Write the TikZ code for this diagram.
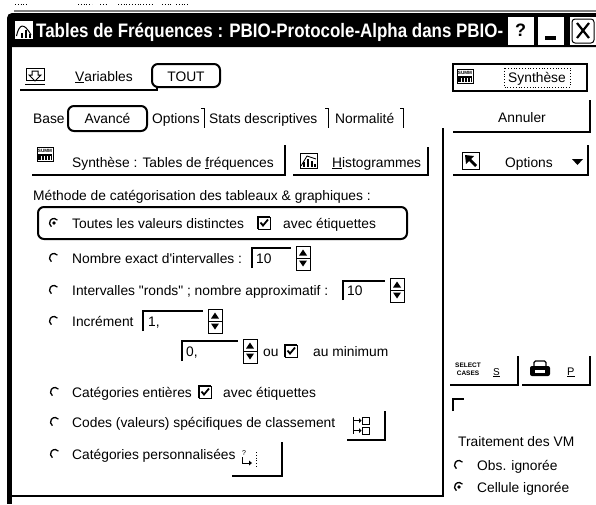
\documentclass[tikz,border=0pt]{standalone}
\usepackage{fontspec}
\setmainfont{Liberation Sans}
\usepackage{graphicx}
\usetikzlibrary{positioning}

\newcommand{\uifont}{\fontsize{13.8}{16}\selectfont}
\newcommand{\tinyfont}{\fontsize{4.6}{5}\selectfont\bfseries}

\begin{document}
\begin{tikzpicture}[x=1pt, y=-1pt,
	txt/.style={font=\uifont, inner sep=0pt, anchor=base west},
	ctxt/.style={font=\uifont, inner sep=0pt, anchor=base},
	ring/.style={draw=black, line width=2pt, rounded corners=6pt},
	btnedge/.style={line width=1.5pt},
	wellline/.style={line width=1.2pt},
	tabsep/.style={line width=1pt},
	capbtn/.style={fill=white, draw=black, line width=1pt},
	radiooff/.pic={\draw[line width=1.3pt] (125:4.5) arc[start angle=125, end angle=320, radius=4.5];},
	radioon/.pic={\draw[line width=1.3pt] (125:4.5) arc[start angle=125, end angle=320, radius=4.5];
		\fill (0,0) circle (1.8);},
	checkon/.pic={\draw[line width=0.8pt] (0,0) rectangle (12,12);
		\draw[line width=1.6pt] (0,12) -- (0,0) -- (12,0);
		\draw[line width=1.8pt] (2.5,5.5) -- (5,8.5) -- (10,2.5);},
	spinner/.pic={\draw[line width=1pt, fill=white] (0,0) rectangle (14,24);
		\draw[line width=1pt] (0,12) -- (14,12);
		\fill (3,9.5) -- (11,9.5) -- (7,3.5) -- cycle;
		\fill (3,14.5) -- (11,14.5) -- (7,20.5) -- cycle;},
	sumicon/.pic={\draw[line width=0.8pt, fill=white] (0,0) rectangle (16,14);
		\node[inner sep=0pt, font=\tinyfont] (-txt) at (8,3.6) {SUMM};
		\fill (1,7) rectangle (15,13);
		\foreach \k in {3.5,6.5,9.5,12.5} \fill[white] (\k,8.5) rectangle ++(0.9,4.5);},
	histicon/.pic={\draw[line width=0.8pt] (0,0) rectangle (17,15);
		\fill (3,14) rectangle (5,9); \fill (7,14) rectangle (9,6);
		\fill (11,14) rectangle (13,8); \fill (14,14) rectangle (16,11);
		\draw[line width=0.8pt] (1,13) -- (7,3) -- (16,6);},
	optsicon/.pic={\draw[line width=0.8pt] (0,0) rectangle (17,17);
		\fill (3,3) -- (12,4) -- (9,7) -- (15,13) -- (13,15) -- (7,9) -- (4,12) -- cycle;},
	varsicon/.pic={\draw[line width=1pt] (1,0) rectangle (19,12);
		\draw[line width=1pt] (0,16) -- (20,16);
		\draw[line width=1pt] (7,3) -- (13,3) -- (13,7) -- (16,7) -- (10,13) -- (4,7) -- (7,7) -- cycle;},
	codesicon/.pic={\draw[line width=0.8pt] (10,1) rectangle (17,8);
		\draw[line width=0.8pt] (10,11) rectangle (17,18);
		\draw[line width=0.8pt] (1,1) -- (1,18);
		\foreach \k in {4.5,14.5} {\draw[line width=0.8pt] (2,\k) -- (7,\k);
			\fill (7,\k-2.5) -- (9.5,\k) -- (7,\k+2.5) -- cycle;}},
	persoicon/.pic={\node[inner sep=0pt, font=\fontsize{7}{7}\selectfont] (-q) at (4,3) {?};
		\draw[line width=0.8pt] (2,7) -- (2,13) -- (10,13);
		\fill (9,10.5) -- (12,13) -- (9,15.5) -- cycle;
		\draw[line width=0.8pt, dotted] (16,2) -- (16,18);},
	printicon/.pic={\fill[rounded corners=2pt] (0,6) rectangle (20,16);
		\fill[white] (5,10) rectangle (15,13);
		\draw[line width=1.3pt, rounded corners=1.5pt] (4,6) -- (4,1) -- (16,1) -- (16,6);},
	]
	\useasboundingbox (0,0) rectangle (596,504);
	\fill[white] (0,0) rectangle (596,504);

	%Window frame
	\foreach \a/\b in {15/27, 78/92, 100/108, 118/152, 162/171, 176/188}
		\draw[dotted, line width=0.8pt] (\a,4) -- (\b,4);
	\draw[gray, line width=1.5pt] (14,11) -- (596,11);
	\fill (7,47) [rounded corners=5pt] -- (7,13) [sharp corners] -- (596,13) -- (596,47) -- cycle;
	\fill (7,47) rectangle (12,504);

	%Title bar
	\fill[white] (15,21) rectangle (33,39);
	\draw[line width=1pt] (16.5,36) .. controls (19,24) and (24,22) .. (31,35);
	\fill (21,38) rectangle (23,33); \fill (25,38) rectangle (27,30); \fill (29,38) rectangle (31,34);
	\node[inner sep=0pt, anchor=base west, text=white, font=\fontsize{19.5}{22}\selectfont\bfseries] (title) at (36,37)
		{\resizebox{467pt}{\height}{Tables de Fréquences : PBIO-Protocole-Alpha dans PBIO-}};
	\draw[capbtn] (507,16) rectangle (534,45);
	\node[inner sep=0pt, font=\fontsize{18}{20}\selectfont\bfseries] (helpq) at (520.5,30.5) {?};
	\draw[capbtn] (537,16) rectangle (564,45);
	\fill (545,36) rectangle (556,39.5);
	\coordinate (minbtn) at (550.5,30.5);
	\draw[capbtn] (569,16) rectangle (596,45);
	\draw[line width=1pt, rounded corners=3pt] (572,19) rectangle (594,43);
	\draw[line width=2.2pt] (577,23) -- (589,38) (589,23) -- (577,38);
	\coordinate (closebtn) at (582.5,30.5);

	%Top rows
	\pic (vars) at (25,68) {varsicon};
	\node[txt] (varstxt) at (75,81) {\underline{V}ariables};
	\draw[ring] (152,64) rectangle (220,87);
	\node[ctxt] (tout) at (186,81) {TOUT};
	\draw[line width=1.2pt] (20,90) -- (157,90) -- (157,87);

	\draw[line width=2pt] (453,64) rectangle (587,91);
	\pic (sumR) at (457,69) {sumicon};
	\node[ctxt] (synthR) at (537,82) {Synthèse};
	\draw[dotted, line width=0.8pt] (504,68) rectangle (570,87);

	\node[txt] (base) at (33,123) {Base};
	\draw[ring] (68,106) rectangle (147,131);
	\node[ctxt] (avance) at (107.5,123) {Avancé};
	\node[txt] (optstab) at (152,123) {Options};
	\node[txt] (stats) at (209,123) {Stats descriptives};
	\node[txt] (norm) at (335,123) {Normalité};
	\foreach \s in {204,328,403}
		\draw[tabsep] (\s-3,108) -- (\s,108) -- (\s,128);

	\draw[btnedge] (590,100) |- (453,132);
	\node[ctxt] (annuler) at (522,122) {Annuler};
	\draw[btnedge] (588,145) |- (453,175);
	\pic (opts) at (462,152) {optsicon};
	\node[txt] (optsR) at (505,167) {Options};
	\fill (572,159) -- (583,159) -- (577.5,165) -- cycle;

	%Left panel
	\draw[line width=1.5pt] (12,496) -- (443,496) -- (443,128);
	\draw[btnedge] (285,145) |- (32,175);
	\pic (sumL) at (37,147) {sumicon};
	\node[txt] (synthL) at (72,167) {Synthèse : Tables de \underline{f}réquences};
	\draw[btnedge] (428,147) |- (293,175);
	\pic (hist) at (300,153) {histicon};
	\node[txt] (histo) at (332,167) {\underline{H}istogrammes};

	\node[txt] (methode) at (33,200) {Méthode de catégorisation des tableaux \& graphiques :};
	\draw[ring] (38,207) rectangle (407,239);
	\pic at (54,223) {radioon};
	\node[txt] (toutes) at (72,228) {Toutes les valeurs distinctes};
	\pic at (258,217) {checkon};
	\node[txt] (avec1) at (283,228) {avec étiquettes};

	\pic at (54,258) {radiooff};
	\node[txt] (nombre) at (72,263) {Nombre exact d\textquotesingle intervalles :};
	\draw[wellline] (252,268) |- (291,248);
	\node[txt] (nb10) at (256,263) {10};
	\pic at (296,246) {spinner};

	\pic at (54,290) {radiooff};
	\node[txt] (interv) at (72,295) {Intervalles \textquotedbl ronds\textquotedbl{} ; nombre approximatif :};
	\draw[wellline] (343,300) |- (385,281);
	\node[txt] (int10) at (347,295) {10};
	\pic at (390,278) {spinner};

	\pic at (54,321) {radiooff};
	\node[txt] (incr) at (72,326) {Incrément};
	\draw[wellline] (143,331) |- (203,311);
	\node[txt] (inc1) at (148,326) {1,};
	\pic at (208,309) {spinner};

	\draw[wellline] (182,361) |- (238,341);
	\node[txt] (zero) at (186,356) {0,};
	\pic at (243,339) {spinner};
	\node[txt] (ou) at (263,356) {ou};
	\pic at (285,345) {checkon};
	\node[txt] (aumin) at (313,356) {au minimum};

	\pic at (55,392) {radiooff};
	\node[txt] (catent) at (72,397) {Catégories entières};
	\pic at (199,386) {checkon};
	\node[txt] (avec2) at (223,397) {avec étiquettes};

	\pic at (55,422) {radiooff};
	\node[txt] (codes) at (72,427) {Codes (valeurs) spécifiques de classement};
	\draw[btnedge] (385,411) |- (347,440);
	\pic (cds) at (352,416) {codesicon};

	\pic at (55,454) {radiooff};
	\node[txt] (catperso) at (72,459) {Catégories personnalisées};
	\draw[btnedge] (282,442) |- (232,476);
	\pic (prs) at (240,450) {persoicon};

	%Right panel
	\draw[btnedge] (518,356) |- (450,385);
	\node[inner sep=0pt, font=\fontsize{6.5}{7}\selectfont\bfseries] (selcases) at (468,369) {\shortstack{SELECT\\CASES}};
	\node[txt, font=\fontsize{10}{10}\selectfont] (slbl) at (493,375) {\underline{S}};
	\draw[btnedge] (590,356) |- (522,385);
	\pic (prn) at (530,360) {printicon};
	\node[txt, font=\fontsize{11}{11}\selectfont] (plbl) at (567,375) {\underline{P}};

	\draw[wellline] (453,411) |- (464,399);
	\node[txt] (treat) at (458,446) {Traitement des VM};
	\pic at (459,465) {radiooff};
	\node[txt] (obs) at (477,470) {Obs. ignorée};
	\pic at (459,487) {radioon};
	\node[txt] (cell) at (477,492) {Cellule ignorée};
\end{tikzpicture}
\end{document}
